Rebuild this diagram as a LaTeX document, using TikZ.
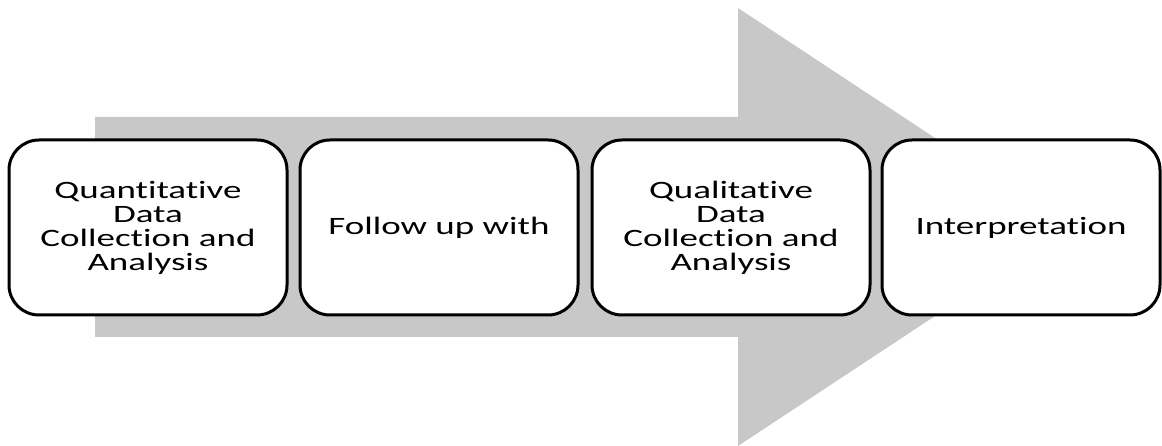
\documentclass[tikz,border=0pt]{standalone}
\usepackage{fontspec}
\setmainfont{Carlito}[FakeStretch=1.48,Ligatures={NoCommon,NoRequired,NoContextual}]
\definecolor{arrowgray}{RGB}{200,200,200}
\begin{document}
\begin{tikzpicture}[x=1pt,y=1pt,
        stage/.style={draw, line width=3pt, fill=white, rounded corners=30pt,
            minimum width=278pt, minimum height=175pt, align=center,
            font=\fontsize{25}{24}\selectfont}]
        \useasboundingbox (0,0) rectangle (1162,446);
        % big grey arrow behind the stages
        \fill [arrowgray] (95,109) -- (95,329) -- (738,329) -- (738,438)
            -- (1070,219) -- (738,0) -- (738,109) -- cycle;
        \node [stage] (quant) at (148,218.5) {Quantitative\\Data\\Collection and\\Analysis};
        \node [stage] (follow) at (439,218.5) {Follow up with};
        \node [stage] (qual) at (731,218.5) {Qualitative\\Data\\Collection and\\Analysis};
        \node [stage] (interp) at (1021,218.5) {Interpretation};
    \end{tikzpicture}
\end{document}
